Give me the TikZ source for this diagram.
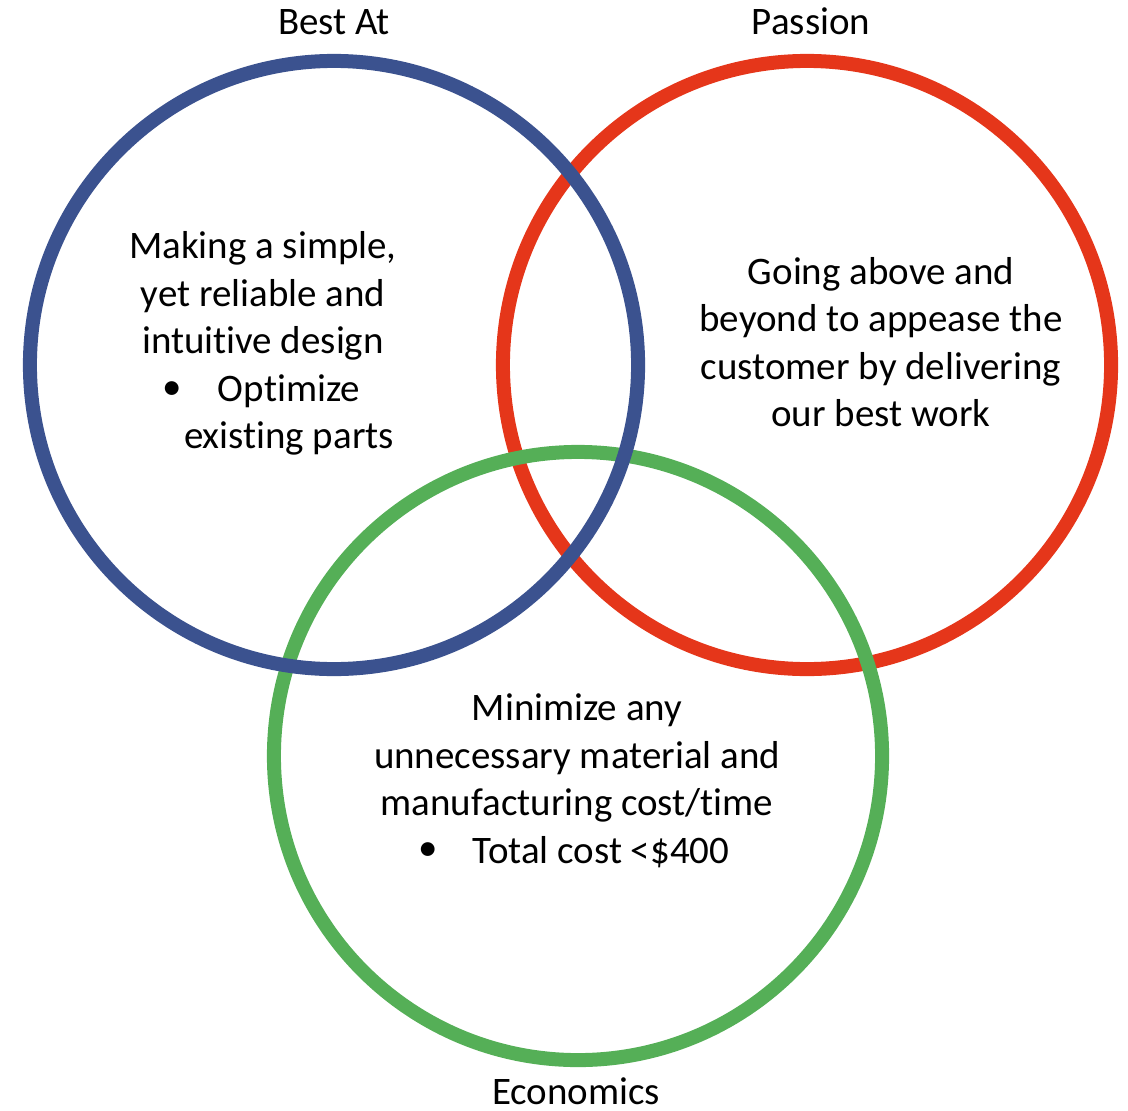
\documentclass[tikz,border=0pt]{standalone}
\usepackage{fontspec}
\setmainfont{Carlito}[Ligatures={NoCommon,NoContextual}, RawFeature={-liga;-dlig;-clig}]
\usetikzlibrary{positioning}
\definecolor{bestblue}{RGB}{59,82,143}
\definecolor{passred}{RGB}{229,54,26}
\definecolor{econgreen}{RGB}{85,175,87}

\begin{document}
\begin{tikzpicture}[
    x=0.025cm, y=-0.025cm,
    ring/.style={draw, circle, line width=0.35cm, minimum size=15.2cm,
                 inner sep=0pt, outer sep=0pt},
    title/.style={inner sep=0pt},
    body/.style={align=center, inner sep=0pt},
    every node/.append style={font=\fontsize{27.7}{33.6}\selectfont}
  ]
  \useasboundingbox (0,0) rectangle (1128,1110);

  % red first, green over it, blue on top
  \node[ring, draw=passred]   (passion) at (807,365) {};
  \node[ring, draw=econgreen] (econ)    at (578,756) {};
  \node[ring, draw=bestblue]  (best)    at (334,365) {};

  \node[title, above=0.65cm of best]                  {Best At};
  \node[title, above=0.65cm of passion, xshift=0.1cm] {Passion};
  \node[title, below=0.43cm of econ, xshift=-0.05cm]  {Economics};

  \node[body] (besttxt) at (263,296) {Making a simple,\\ yet reliable and\\ intuitive design};
  \node[body] (bestitem) at (289,415) {Optimize\\ existing parts};
  \node (bestdot) at (172,391) {\textbullet};

  \node[body] (passtxt) at (881,342) {Going above and\\ beyond to appease the\\ customer by delivering\\ our best work};

  \node[body] (econtxt) at (577,758) {Minimize any\\ unnecessary material and\\ manufacturing cost/time};
  \node[body] (econitem) at (601,852) {Total cost <\$400};
  \node (econdot) at (428,852) {\textbullet};
\end{tikzpicture}
\end{document}
